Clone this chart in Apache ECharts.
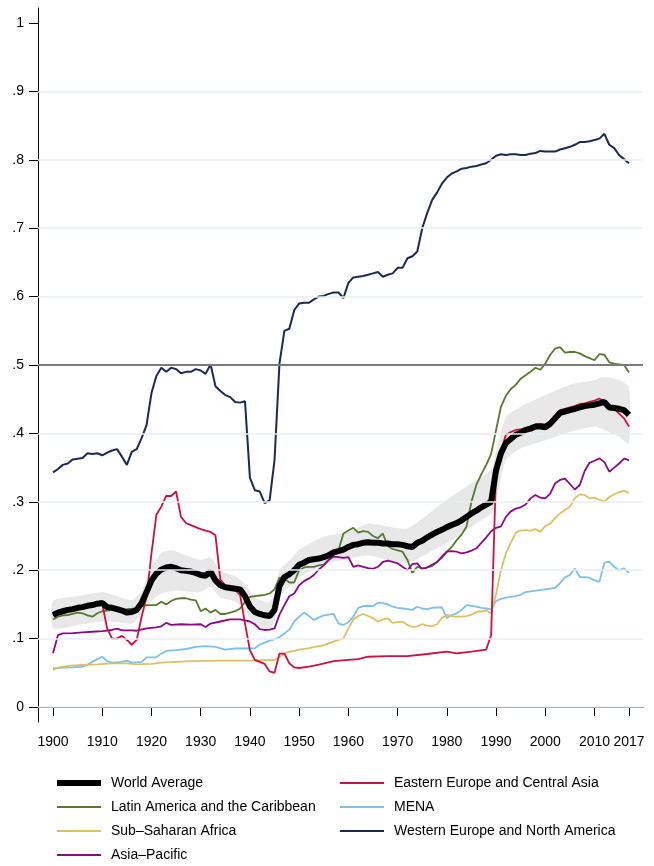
<!DOCTYPE html>
<html><head><meta charset="utf-8">
<script src="https://cdn.jsdelivr.net/npm/echarts@6/dist/echarts.min.js"></script>
<style>html,body{margin:0;padding:0;background:#fff}#c{width:654px;height:866px}</style>
</head><body><div id="c"></div>
<script>
const xTicks = [1900,1910,1920,1930,1940,1950,1960,1970,1980,1990,2000,2010,2017];
const yTicks = [0,0.1,0.2,0.3,0.4,0.5,0.6,0.7,0.8,0.9,1];
const gridValues = [0,0.1,0.2,0.3,0.4,0.6,0.7,0.8,0.9];
const refLine = 0.5;

const worldAvg = [[1900,.1345],[1901,.138],[1902,.140],[1903,.142],[1904,.143],[1905,.145],[1906,.146],[1907,.148],[1908,.149],[1909,.151],[1910,.152],[1911,.146],[1912,.145],[1913,.143],[1914,.141],[1915,.138],[1916,.139],[1917,.142],[1918,.152],[1919,.168],[1920,.185],[1921,.195],[1922,.201],[1923,.204],[1924,.205],[1925,.203],[1926,.200],[1927,.199],[1928,.198],[1929,.196],[1930,.193],[1931,.192],[1932,.198],[1933,.185],[1934,.178],[1935,.175],[1936,.174],[1937,.173],[1938,.172],[1939,.162],[1940,.147],[1941,.139],[1942,.136],[1943,.134],[1944,.133],[1945,.142],[1946,.177],[1947,.190],[1948,.194],[1949,.200],[1950,.208],[1951,.211],[1952,.215],[1953,.216],[1954,.217],[1955,.219],[1956,.222],[1957,.226],[1958,.228],[1959,.230],[1960,.234],[1961,.237],[1962,.238],[1963,.240],[1964,.241],[1965,.240],[1966,.240],[1967,.239],[1968,.239],[1969,.238],[1970,.238],[1971,.237],[1972,.235],[1973,.234],[1974,.240],[1975,.243],[1976,.248],[1977,.252],[1978,.256],[1979,.259],[1980,.263],[1981,.266],[1982,.269],[1983,.273],[1984,.278],[1985,.283],[1986,.287],[1987,.292],[1988,.296],[1989,.300],[1990,.346],[1991,.371],[1992,.386],[1993,.392],[1994,.398],[1995,.401],[1996,.405],[1997,.407],[1998,.410],[1999,.410],[2000,.409],[2001,.414],[2002,.422],[2003,.430],[2004,.432],[2005,.434],[2006,.436],[2007,.438],[2008,.440],[2009,.441],[2010,.442],[2011,.444],[2012,.446],[2013,.438],[2014,.437],[2015,.436],[2016,.434],[2017,.427]];

const bandHigh = [[1900,.155],[1905,.162],[1910,.168],[1913,.162],[1916,.156],[1918,.170],[1920,.205],[1922,.225],[1924,.229],[1927,.222],[1930,.215],[1932,.219],[1934,.200],[1937,.191],[1939,.180],[1941,.160],[1943,.154],[1944,.154],[1945,.165],[1946,.200],[1948,.214],[1950,.230],[1955,.249],[1960,.256],[1964,.268],[1968,.264],[1972,.261],[1976,.281],[1980,.303],[1985,.327],[1989,.347],[1990,.372],[1992,.424],[1995,.439],[2000,.456],[2005,.471],[2010,.478],[2012,.483],[2015,.478],[2017,.468]];
const bandLow = [[1900,.115],[1905,.120],[1910,.125],[1913,.124],[1916,.122],[1918,.135],[1920,.155],[1922,.166],[1925,.170],[1930,.168],[1932,.176],[1934,.160],[1937,.154],[1939,.140],[1941,.122],[1943,.116],[1944,.115],[1945,.125],[1946,.160],[1948,.176],[1950,.190],[1955,.2076],[1960,.217],[1964,.222],[1968,.215],[1972,.210],[1976,.2245],[1980,.239],[1985,.264],[1989,.283],[1990,.300],[1992,.361],[1995,.378],[2000,.390],[2005,.402],[2010,.410],[2012,.405],[2015,.395],[2017,.385]];

const easternEurope = [[1900,.134],[1902,.140],[1905,.145],[1908,.149],[1910,.151],[1911,.115],[1912,.100],[1913,.100],[1914,.104],[1915,.098],[1916,.091],[1917,.098],[1918,.132],[1919,.161],[1920,.2245],[1921,.281],[1922,.293],[1923,.3085],[1924,.3085],[1925,.315],[1926,.278],[1927,.269],[1928,.266],[1929,.263],[1930,.260],[1931,.258],[1932,.256],[1933,.251],[1934,.186],[1935,.178],[1936,.175],[1937,.171],[1938,.164],[1939,.122],[1940,.083],[1941,.069],[1942,.066],[1943,.063],[1944,.052],[1945,.050],[1946,.078],[1947,.078],[1948,.064],[1949,.058],[1950,.057],[1952,.059],[1954,.062],[1957,.067],[1960,.069],[1962,.070],[1964,.0735],[1968,.0745],[1972,.0745],[1976,.0775],[1980,.081],[1982,.0785],[1985,.081],[1988,.084],[1989,.105],[1990,.345],[1991,.375],[1992,.398],[1993,.402],[1994,.405],[1995,.406],[1996,.407],[1997,.410],[1998,.413],[1999,.414],[2000,.413],[2001,.418],[2002,.426],[2003,.434],[2004,.436],[2005,.438],[2006,.440],[2007,.443],[2008,.444],[2009,.446],[2010,.448],[2011,.451],[2012,.446],[2013,.440],[2014,.436],[2015,.429],[2016,.422],[2017,.410]];

const latinAmerica = [[1900,.128],[1901,.132],[1902,.134],[1903,.1345],[1904,.136],[1905,.138],[1906,.137],[1907,.134],[1908,.132],[1909,.137],[1910,.140],[1912,.142],[1915,.143],[1917,.144],[1918,.1476],[1919,.149],[1920,.149],[1921,.149],[1922,.154],[1923,.150],[1924,.155],[1925,.158],[1926,.159],[1927,.159],[1928,.157],[1929,.156],[1930,.140],[1931,.144],[1932,.138],[1933,.142],[1934,.136],[1935,.136],[1936,.138],[1937,.140],[1938,.144],[1939,.154],[1940,.161],[1941,.162],[1942,.163],[1943,.164],[1944,.166],[1945,.172],[1946,.189],[1947,.188],[1948,.182],[1949,.182],[1950,.200],[1951,.204],[1952,.205],[1953,.205],[1954,.207],[1955,.208],[1956,.215],[1957,.222],[1958,.2295],[1959,.2536],[1960,.258],[1961,.262],[1962,.255],[1963,.257],[1964,.256],[1965,.250],[1966,.247],[1967,.2536],[1968,.235],[1969,.231],[1970,.229],[1971,.227],[1972,.215],[1973,.196],[1974,.205],[1975,.203],[1976,.204],[1977,.206],[1978,.212],[1979,.218],[1980,.227],[1981,.234],[1982,.244],[1983,.252],[1984,.264],[1985,.300],[1986,.325],[1987,.340],[1988,.354],[1989,.370],[1990,.405],[1991,.439],[1992,.455],[1993,.465],[1994,.471],[1995,.480],[1996,.485],[1997,.490],[1998,.496],[1999,.493],[2000,.502],[2001,.515],[2002,.524],[2003,.526],[2004,.518],[2005,.519],[2006,.519],[2007,.517],[2008,.513],[2009,.510],[2010,.507],[2011,.516],[2012,.515],[2013,.504],[2014,.502],[2015,.501],[2016,.500],[2017,.489]];

const mena = [[1900,.0565],[1902,.0575],[1904,.058],[1906,.059],[1907,.062],[1908,.066],[1909,.070],[1910,.0735],[1911,.067],[1912,.065],[1914,.066],[1915,.0677],[1916,.065],[1918,.066],[1919,.0726],[1921,.0726],[1922,.078],[1923,.082],[1925,.0833],[1927,.0848],[1929,.088],[1931,.089],[1933,.088],[1935,.084],[1937,.0855],[1940,.0855],[1941,.086],[1942,.091],[1943,.094],[1944,.097],[1945,.099],[1946,.102],[1947,.1076],[1948,.113],[1949,.125],[1950,.132],[1951,.138],[1952,.133],[1953,.127],[1954,.131],[1955,.134],[1956,.135],[1957,.136],[1958,.122],[1959,.120],[1960,.124],[1961,.132],[1962,.145],[1963,.1476],[1964,.148],[1965,.1476],[1966,.1525],[1967,.152],[1968,.150],[1969,.1466],[1970,.145],[1971,.144],[1972,.143],[1973,.142],[1974,.1466],[1975,.144],[1976,.143],[1977,.145],[1978,.1455],[1979,.1455],[1980,.130],[1981,.1345],[1982,.137],[1983,.142],[1984,.149],[1985,.148],[1986,.1466],[1987,.145],[1988,.144],[1989,.1427],[1990,.155],[1991,.158],[1992,.160],[1993,.161],[1994,.162],[1995,.164],[1996,.168],[1997,.169],[1998,.170],[1999,.171],[2000,.172],[2001,.173],[2002,.174],[2003,.181],[2004,.1895],[2005,.193],[2006,.2026],[2007,.190],[2008,.190],[2009,.189],[2010,.185],[2011,.183],[2012,.211],[2013,.2125],[2014,.205],[2015,.200],[2016,.2026],[2017,.196]];

const subSaharan = [[1900,.054],[1901,.0575],[1903,.060],[1906,.0614],[1909,.0624],[1912,.0639],[1915,.0639],[1917,.0624],[1920,.063],[1922,.065],[1925,.066],[1928,.067],[1931,.0675],[1935,.0677],[1940,.0677],[1945,.0687],[1946,.073],[1947,.078],[1948,.081],[1949,.082],[1950,.084],[1952,.086],[1954,.089],[1955,.090],[1956,.093],[1957,.0955],[1958,.098],[1959,.100],[1960,.115],[1961,.128],[1962,.133],[1963,.136],[1964,.133],[1965,.130],[1966,.1247],[1967,.128],[1968,.1296],[1969,.123],[1970,.124],[1971,.1247],[1972,.120],[1973,.117],[1974,.118],[1975,.121],[1976,.119],[1977,.118],[1978,.121],[1979,.130],[1980,.1345],[1981,.133],[1982,.132],[1983,.132],[1984,.133],[1985,.135],[1986,.139],[1987,.140],[1988,.141],[1989,.137],[1990,.165],[1991,.200],[1992,.225],[1993,.240],[1994,.255],[1995,.258],[1996,.2587],[1997,.258],[1998,.260],[1999,.256],[2000,.2646],[2001,.268],[2002,.276],[2003,.283],[2004,.288],[2005,.2928],[2006,.305],[2007,.311],[2008,.310],[2009,.305],[2010,.306],[2011,.303],[2012,.300],[2013,.307],[2014,.311],[2015,.314],[2016,.316],[2017,.313]];

const westernEurope = [[1900,.343],[1901,.348],[1902,.354],[1903,.356],[1904,.362],[1905,.363],[1906,.364],[1907,.371],[1908,.370],[1909,.371],[1910,.368],[1911,.372],[1912,.375],[1913,.377],[1914,.366],[1915,.354],[1916,.373],[1917,.377],[1918,.393],[1919,.412],[1920,.459],[1921,.484],[1922,.496],[1923,.490],[1924,.496],[1925,.494],[1926,.488],[1927,.490],[1928,.490],[1929,.494],[1930,.492],[1931,.487],[1932,.501],[1933,.469],[1934,.462],[1935,.456],[1936,.453],[1937,.446],[1938,.445],[1939,.447],[1940,.335],[1941,.317],[1942,.315],[1943,.298],[1944,.302],[1945,.361],[1946,.502],[1947,.550],[1948,.553],[1949,.580],[1950,.590],[1951,.591],[1952,.591],[1953,.596],[1954,.600],[1955,.601],[1956,.604],[1957,.606],[1958,.606],[1959,.598],[1960,.620],[1961,.628],[1962,.629],[1963,.630],[1964,.632],[1965,.634],[1966,.636],[1967,.629],[1968,.632],[1969,.634],[1970,.642],[1971,.642],[1972,.656],[1973,.659],[1974,.666],[1975,.700],[1976,.722],[1977,.741],[1978,.752],[1979,.765],[1980,.774],[1981,.780],[1982,.783],[1983,.787],[1984,.788],[1985,.790],[1986,.791],[1987,.793],[1988,.795],[1989,.800],[1990,.806],[1991,.808],[1992,.807],[1993,.808],[1994,.808],[1995,.807],[1996,.807],[1997,.809],[1998,.810],[1999,.813],[2000,.812],[2001,.812],[2002,.812],[2003,.815],[2004,.817],[2005,.819],[2006,.822],[2007,.826],[2008,.826],[2009,.827],[2010,.829],[2011,.831],[2012,.838],[2013,.822],[2014,.817],[2015,.807],[2016,.801],[2017,.795]];

const asiaPacific = [[1900,.0785],[1901,.105],[1902,.1076],[1904,.108],[1906,.109],[1908,.110],[1910,.111],[1912,.1126],[1913,.1145],[1914,.112],[1916,.112],[1917,.1115],[1919,.115],[1921,.1165],[1922,.118],[1923,.123],[1924,.120],[1926,.121],[1928,.1205],[1930,.121],[1931,.117],[1932,.122],[1934,.125],[1936,.128],[1938,.128],[1940,.125],[1941,.121],[1942,.114],[1943,.1126],[1944,.113],[1945,.115],[1946,.135],[1947,.149],[1948,.162],[1949,.166],[1950,.178],[1951,.184],[1952,.188],[1953,.193],[1954,.201],[1955,.207],[1956,.215],[1957,.220],[1958,.219],[1959,.218],[1960,.219],[1961,.205],[1962,.207],[1963,.205],[1964,.203],[1965,.202],[1966,.205],[1967,.212],[1968,.214],[1969,.212],[1970,.210],[1971,.205],[1972,.200],[1973,.209],[1974,.210],[1975,.201],[1976,.204],[1977,.208],[1978,.212],[1979,.220],[1980,.227],[1981,.228],[1982,.227],[1983,.2245],[1984,.226],[1985,.2285],[1986,.232],[1987,.240],[1988,.248],[1989,.257],[1990,.262],[1991,.264],[1992,.278],[1993,.286],[1994,.290],[1995,.292],[1996,.296],[1997,.305],[1998,.310],[1999,.306],[2000,.305],[2001,.312],[2002,.327],[2003,.332],[2004,.334],[2005,.326],[2006,.318],[2007,.3245],[2008,.345],[2009,.357],[2010,.360],[2011,.3635],[2012,.358],[2013,.344],[2014,.350],[2015,.356],[2016,.363],[2017,.361]];

const names = {
  world: 'World Average',
  ee: 'Eastern Europe and Central Asia',
  la: 'Latin America and the Caribbean',
  mena: 'MENA',
  ssa: 'Sub–Saharan Africa',
  we: 'Western Europe and North America',
  ap: 'Asia–Pacific'
};

const FONT = '"Liberation Sans", Arial, Helvetica, sans-serif';
const chart = echarts.init(document.getElementById('c'), null, {renderer: 'canvas'});

function lineSeries(name, data, color, width, z) {
  return {
    name, type: 'line', data, symbol: 'none', showSymbol: false,
    lineStyle: {color, width}, itemStyle: {color}, z, silent: true,
    emphasis: {disabled: true}
  };
}

function legendBox(left, top, data, itemHeight) {
  return {
    orient: 'vertical', left, top, data, icon: 'rect',
    itemWidth: 44, itemHeight, itemGap: 10, selectedMode: false, padding: 0,
    textStyle: {fontFamily: FONT, fontSize: 14, lineHeight: 14, color: '#000', padding: [0,0,0,5]}
  };
}

chart.setOption({
  animation: false,
  backgroundColor: '#fff',
  grid: {left: 38, right: 11, top: 8, bottom: 144},
  xAxis: {
    type: 'value', min: 1896.95, max: 2019.85,
    splitLine: {show: false},
    axisLine: {show: true, lineStyle: {color: '#000', width: 1}},
    axisTick: {show: true, customValues: xTicks, length: 9, lineStyle: {color: '#000', width: 1}},
    axisLabel: {customValues: xTicks, margin: 13, fontFamily: FONT, fontSize: 14, color: '#000', formatter: v => String(v)}
  },
  yAxis: {
    type: 'value', min: -0.02193, max: 1.02193,
    splitLine: {show: false},
    axisLine: {show: true, lineStyle: {color: '#000', width: 1}},
    axisTick: {show: true, customValues: yTicks, length: 9, lineStyle: {color: '#000', width: 1}},
    axisLabel: {customValues: yTicks, margin: 14, fontFamily: FONT, fontSize: 14, color: '#000',
      formatter: v => { const r = Math.round(v * 10); return r === 0 ? '0' : r === 10 ? '1' : '.' + r; }}
  },
  legend: [
    legendBox(57, 776, [names.world], 6),
    legendBox(57, 800, [names.la, names.ssa, names.ap], 2),
    legendBox(340, 776, [names.ee, names.mena, names.we], 2)
  ],
  series: [
    {
      name: 'gridlines', type: 'line', data: [], z: 1, silent: true,
      markLine: {
        silent: true, symbol: 'none', label: {show: false}, animation: false,
        data: gridValues.map(v => ({yAxis: v, lineStyle: {color: '#e8eef2', width: 1.5, type: 'solid'}}))
          .concat([{yAxis: refLine, lineStyle: {color: '#7a7a7a', width: 2, type: 'solid'}}])
      }
    },
    {
      name: 'band', type: 'custom', z: 2, silent: true,
      data: [[1950, 0.2]],
      renderItem: function (params, api) {
        const pts = [];
        bandHigh.forEach(p => pts.push(api.coord(p)));
        for (let i = bandLow.length - 1; i >= 0; i--) pts.push(api.coord(bandLow[i]));
        return {type: 'polygon', shape: {points: pts, smooth: 0.2}, style: {fill: '#e8e8e8', stroke: null}};
      }
    },
    lineSeries(names.we, westernEurope, '#1b2a55', 2, 3),
    lineSeries(names.la, latinAmerica, '#587a2e', 1.8, 3),
    lineSeries(names.mena, mena, '#7ec0ea', 1.8, 3),
    lineSeries(names.ssa, subSaharan, '#dcc062', 1.8, 3),
    lineSeries(names.ap, asiaPacific, '#8a0a86', 1.8, 3),
    lineSeries(names.ee, easternEurope, '#cc1040', 1.8, 3),
    lineSeries(names.world, worldAvg, '#000000', 6, 4)
  ]
});
</script>
</body></html>
